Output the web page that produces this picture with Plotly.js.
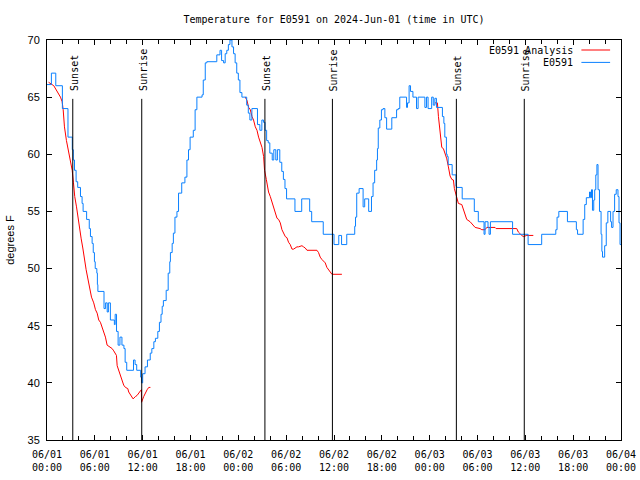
<!DOCTYPE html>
<html>
<head>
<meta charset="utf-8">
<script src="https://cdn.plot.ly/plotly-3.0.1.min.js"></script>
<style>html,body{margin:0;padding:0;background:#fff}#chart{width:640px;height:480px}</style>
</head>
<body>
<div id="chart"></div>
<script>
// ---- data (hours after 2024-06-01 00:00 UTC, degrees F) ----
const obsHours = [0.0,0.55,1.1,1.93,2.63,3.17,3.3,3.45,3.65,3.85,4.2,4.4,4.53,4.97,5.3,5.45,5.66,5.8,5.95,6.05,6.25,6.32,6.38,7.15,7.35,7.55,7.7,7.95,8.45,8.55,8.72,8.92,9.15,9.4,9.65,9.8,10.0,10.85,11.05,11.25,11.75,11.85,12.0,12.3,12.6,12.95,13.15,13.4,13.6,13.9,14.1,14.3,14.45,14.6,14.95,15.2,15.4,15.48,15.7,15.85,16.05,16.3,16.5,16.9,17.3,17.55,17.75,17.95,18.35,18.58,18.8,19.45,19.6,19.85,20.05,21.3,21.7,21.9,22.15,22.35,22.55,22.75,22.95,23.2,23.4,23.6,23.8,24.0,24.2,24.45,25.05,25.25,25.45,25.7,26.4,26.7,26.95,27.15,27.35,27.55,27.75,27.95,28.25,28.45,28.7,28.9,29.2,29.45,29.65,29.85,30.05,31.1,31.95,32.95,33.2,34.65,36.0,36.6,36.95,37.6,38.6,38.7,38.85,39.15,39.65,39.85,40.35,40.7,40.9,41.1,41.35,41.45,41.55,41.75,41.95,42.15,42.38,42.6,43.25,43.85,44.05,44.25,45.1,45.22,45.42,45.6,45.9,46.35,46.55,47.4,47.6,47.8,48.25,48.45,48.65,48.85,49.6,49.78,49.9,50.1,50.2,50.32,50.82,51.3,51.38,52.08,53.6,54.1,54.82,54.95,55.32,55.45,55.62,58.4,60.35,62.05,63.82,63.98,64.2,65.28,66.4,66.55,67.25,67.45,67.65,68.05,68.18,68.3,68.42,68.58,68.7,68.84,68.98,69.12,69.3,69.5,69.6,69.68,69.95,70.15,70.35,70.7,70.82,71.0,71.2,71.4,71.62,71.75,71.88,72.0];
const obsTemps = [66.1,67.1,66.0,64.0,61.5,60.4,59.5,58.6,57.6,57.1,56.3,55.7,55.0,54.3,53.5,52.8,52.2,51.4,50.6,50.0,49.6,48.6,48.0,46.5,47.0,46.2,47.0,45.5,45.1,46.0,44.5,43.3,44.0,43.3,43.0,41.8,41.1,42.0,41.6,41.1,40.5,40.0,40.8,41.4,42.0,42.6,43.0,43.6,43.9,44.5,45.3,46.0,46.7,47.2,48.1,49.6,50.6,51.4,52.2,53.1,54.5,55.0,56.6,57.5,58.0,59.5,60.4,61.5,62.1,63.9,65.0,65.2,66.5,68.0,68.1,68.7,69.1,68.2,68.0,68.8,69.1,69.6,70.0,69.4,68.8,68.0,67.1,66.5,65.4,65.0,64.3,63.6,63.0,64.0,62.6,62.1,63.0,62.8,62.1,61.2,61.0,60.1,59.5,60.4,59.5,60.4,59.3,58.5,57.8,57.0,56.1,55.0,56.1,55.0,54.1,53.0,52.1,52.9,52.1,53.0,53.7,54.5,56.6,57.0,55.4,56.1,55.0,56.3,57.5,58.6,59.5,60.5,62.3,63.0,63.9,64.0,63.2,62.2,63.2,63.9,64.0,65.0,64.1,64.5,66.0,65.5,65.0,64.0,65.0,64.1,65.0,64.0,65.0,64.3,64.9,64.1,63.3,62.7,61.5,60.0,59.8,59.1,58.2,57.2,57.1,56.1,55.0,54.1,53.0,54.1,53.6,53.0,54.1,53.0,52.1,53.0,53.4,54.5,55.0,54.1,53.4,53.0,54.3,55.6,56.2,56.7,56.2,56.9,55.1,56.0,56.9,58.2,59.1,56.9,55.0,53.0,51.5,51.0,52.0,54.0,55.0,54.1,53.6,55.0,56.5,56.9,56.3,54.0,52.1,52.1];

const anaHours1 = [0.2,0.85,1.69,1.9,2.03,2.19,2.44,2.61,2.73,2.94,3.16,3.32,3.48,3.7,3.86,4.07,4.29,4.49,4.7,4.91,5.16,5.36,5.58,5.86,6.08,6.29,6.49,6.7,6.92,7.12,7.33,7.54,7.74,8.17,8.37,8.71,8.8,9.0,9.21,9.42,9.62,9.84,10.13,10.25,10.68,10.8,11.09,11.3,11.72,11.84,11.86,12.13,12.56,12.76,12.97];
const anaTemps1 = [66.3,66.0,65.0,64.6,63.9,62.4,61.2,60.6,60.2,59.3,58.6,57.5,56.3,55.4,54.5,53.7,52.6,51.8,50.7,49.9,49.0,48.3,47.5,47.0,46.4,46.1,45.5,45.3,44.9,44.5,44.0,43.3,43.2,43.0,42.8,42.4,41.5,41.1,40.7,40.4,39.8,39.6,39.5,39.2,38.8,38.6,38.8,38.9,39.3,39.4,38.3,38.8,39.4,39.6,39.6];
const anaHours2 = [24.87,25.09,25.29,25.5,25.71,25.91,26.13,26.34,26.54,26.75,26.97,27.17,27.29,27.51,27.67,27.79,28.01,28.22,28.42,28.63,28.85,29.05,29.26,29.47,29.67,29.89,30.1,30.3,30.51,30.73,30.93,31.14,31.35,31.55,31.98,32.18,32.39,32.61,33.86,34.06,34.27,34.48,34.69,34.9,35.11,35.31,35.53,35.74,36.99];
const anaTemps2 = [65.0,64.7,64.1,63.9,63.3,63.0,62.4,62.1,61.5,61.1,60.6,59.8,58.6,57.8,56.9,56.7,56.3,55.8,55.4,54.9,54.4,54.3,54.0,53.4,53.1,52.8,52.7,52.3,52.1,51.7,51.7,51.8,51.9,51.9,52.0,51.9,51.8,51.6,51.6,51.4,51.0,50.8,50.6,50.5,50.1,49.9,49.7,49.5,49.5];
const anaHours3 = [48.68,48.97,49.1,49.31,49.52,49.72,49.94,50.15,50.35,50.56,50.78,50.98,51.1,51.32,51.48,51.6,52.03,52.16,52.44,52.65,53.07,53.28,53.7,54.32,54.54,54.95,55.16,56.2,56.33,58.92,59.12,59.55,59.75,60.18,61.0];
const anaTemps3 = [64.5,64.5,63.3,61.7,60.6,60.5,60.1,59.6,58.9,58.1,57.8,57.75,57.0,56.4,56.2,55.7,55.6,55.3,54.7,54.3,54.1,53.9,53.6,53.5,53.4,53.4,53.6,53.6,53.5,53.5,53.2,52.9,52.8,52.9,52.9];

const sunTimes = ['2024-06-01 03:14','2024-06-01 11:53','2024-06-02 03:20','2024-06-02 11:48','2024-06-03 03:21','2024-06-03 11:52'];
const sunLabels = ['Sunset','Sunrise','Sunset','Sunrise','Sunset','Sunrise'];

const tickTimes = ['2024-06-01 00:00','2024-06-01 06:00','2024-06-01 12:00','2024-06-01 18:00','2024-06-02 00:00','2024-06-02 06:00','2024-06-02 12:00','2024-06-02 18:00','2024-06-03 00:00','2024-06-03 06:00','2024-06-03 12:00','2024-06-03 18:00','2024-06-04 00:00'];
const tickLabels = ['06/01<br>00:00','06/01<br>06:00','06/01<br>12:00','06/01<br>18:00','06/02<br>00:00','06/02<br>06:00','06/02<br>12:00','06/02<br>18:00','06/03<br>00:00','06/03<br>06:00','06/03<br>12:00','06/03<br>18:00','06/04<br>00:00'];

const seriesNames = ['E0591 Analysis','E0591'];
const seriesColors = ['#ff0000','#0a80ff'];

// ---- helpers ----
function hToDate(h){
  const d = new Date(Date.UTC(2024,5,1) + Math.round(h*3600000));
  const p = n => String(n).padStart(2,'0');
  return d.getUTCFullYear()+'-'+p(d.getUTCMonth()+1)+'-'+p(d.getUTCDate())+' '+p(d.getUTCHours())+':'+p(d.getUTCMinutes())+':'+p(d.getUTCSeconds());
}

const anaX = [], anaY = [];
[[anaHours1,anaTemps1],[anaHours2,anaTemps2],[anaHours3,anaTemps3]].forEach((seg,i)=>{
  if(i>0){ anaX.push(hToDate(seg[0][0]-0.5)); anaY.push(null); }
  seg[0].forEach((h,j)=>{ anaX.push(hToDate(h)); anaY.push(seg[1][j]); });
});

const mono = 'DejaVu Sans Mono, monospace';
const sans = 'Liberation Sans, Arial, sans-serif';

const traces = [
  {x: anaX, y: anaY, type:'scatter', mode:'lines', name: seriesNames[0],
   line:{color:seriesColors[0], width:1}, connectgaps:false, showlegend:false, hoverinfo:'skip'},
  {x: obsHours.map(hToDate), y: obsTemps, type:'scatter', mode:'lines', name: seriesNames[1],
   line:{color:seriesColors[1], width:1, shape:'hv'}, showlegend:false, hoverinfo:'skip'}
];

const shapes = sunTimes.map(t => ({type:'line', xref:'x', yref:'y', x0:t, x1:t, y0:35, y1:64.85,
  line:{color:'#000', width:1}}));
const annotations = sunTimes.map((t,i) => ({x:t, y:65, xref:'x', yref:'y', text:sunLabels[i],
  textangle:-90, showarrow:false, xanchor:'center', yanchor:'bottom', yshift:4, xshift:1,
  font:{family:mono, size:10, color:'#000'}}));

// manual legend (text right-aligned, sample line to the right)
const legY = [0.975, 0.944];
seriesNames.forEach((n,i)=>{
  annotations.push({xref:'paper', yref:'paper', x:0.9195, y:legY[i], text:n, showarrow:false,
    xanchor:'right', yanchor:'middle', font:{family:mono, size:10, color:'#000'}});
  shapes.push({type:'line', xref:'paper', yref:'paper', x0:0.931, x1:0.981, y0:legY[i], y1:legY[i],
    line:{color:seriesColors[i], width:1}});
});

const layout = {
  width:640, height:480,
  margin:{l:47, r:19, t:40, b:40, pad:0},
  paper_bgcolor:'#fff', plot_bgcolor:'#fff',
  title:{text:'Temperature for E0591 on 2024-Jun-01 (time in UTC)', font:{family:mono, size:10, color:'#000'},
    x:0.5, xref:'paper', xanchor:'center', y:1-19/480, yref:'container', yanchor:'middle'},
  xaxis:{type:'date', range:['2024-06-01 00:00','2024-06-04 00:00'], tickmode:'array',
    tickvals:tickTimes, ticktext:tickLabels, ticks:'inside', ticklen:5, tickcolor:'#000', tickwidth:1,
    minor:{dtick:2*3600000, tick0:'2024-06-01 00:00', ticks:'inside', ticklen:4, tickcolor:'#000', showgrid:false},
    showline:true, linecolor:'#000', linewidth:1, mirror:'allticks', showgrid:false, zeroline:false,
    ticklabelstandoff:5,
    tickfont:{family:mono, size:10, color:'#000'}},
  yaxis:{range:[35,70], tickmode:'array', tickvals:[35,40,45,50,55,60,65,70], ticks:'inside', ticklen:5,
    tickcolor:'#000', tickwidth:1, showline:true, linecolor:'#000', linewidth:1, mirror:'allticks',
    showgrid:false, zeroline:false, tickfont:{family:sans, size:11, color:'#000'}, ticklabelstandoff:4,
    title:{text:'degrees F', font:{family:sans, size:11, color:'#000'}, standoff:10}},
  shapes: shapes,
  annotations: annotations,
  showlegend:false
};

Plotly.newPlot('chart', traces, layout, {staticPlot:true, displayModeBar:false});
</script>
</body>
</html>
